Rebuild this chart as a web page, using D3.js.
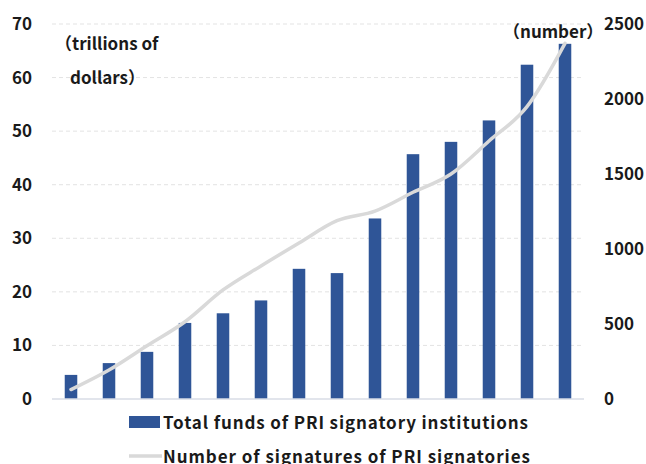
<!DOCTYPE html>
<html>
<head>
<meta charset="utf-8">
<script src="https://cdn.jsdelivr.net/npm/d3@7"></script>
<style>
  body { margin: 0; background: #fff; }
  text { font-family: "Noto Sans CJK JP", "Noto Sans", sans-serif; font-weight: bold; fill: #1a1a1a; }
</style>
</head>
<body>
<div id="chart"></div>
<script>
// values
const years = ["2006", "2007", "2008", "2009", "2010", "2011", "2012", "2013", "2014", "2015", "2016", "2017", "2018", "2019"];
const funds = [4.5, 6.7, 8.8, 14.2, 16.0, 18.4, 24.3, 23.5, 33.7, 45.7, 48.0, 52.0, 62.4, 66.3];
const signatories = [63, 193, 355, 515, 727, 887, 1040, 1189, 1253, 1378, 1500, 1720, 1949, 2371];
const leftTicks = [0, 10, 20, 30, 40, 50, 60, 70];
const rightTicks = [0, 500, 1000, 1500, 2000, 2500];

const width = 646, height = 464;
const margin = { top: 24, right: 62, bottom: 65, left: 52 };
const innerW = width - margin.left - margin.right;
const innerH = height - margin.top - margin.bottom;

const svg = d3.select('#chart')
    .append('svg')
    .attr('width', width)
    .attr('height', height);

const g = svg.append('g')
    .attr('transform', `translate(${margin.left}, ${margin.top})`);

const xScale = d3.scaleBand()
    .domain(years)
    .range([0, innerW])
    .paddingInner(0.67)
    .paddingOuter(0.335);

const yLeft = d3.scaleLinear().domain([0, 70]).range([innerH, 0]);
const yRight = d3.scaleLinear().domain([0, 2500]).range([innerH, 0]);

// dashed gridlines
g.append('g')
    .selectAll('line')
    .data(leftTicks.filter(d => d > 0))
    .enter()
    .append('line')
    .attr('x1', 0)
    .attr('x2', innerW)
    .attr('y1', d => yLeft(d))
    .attr('y2', d => yLeft(d))
    .attr('stroke', '#e3e3e3')
    .attr('stroke-width', 1)
    .attr('stroke-dasharray', '4 3');

// left axis labels
const leftAxis = g.append('g')
    .call(d3.axisLeft(yLeft).tickValues(leftTicks).tickSize(0).tickPadding(20));
leftAxis.select('.domain').remove();
leftAxis.selectAll('text')
    .style('font-size', '17px')
    .attr('fill', '#1a1a1a');

// right axis labels
const rightAxis = g.append('g')
    .attr('transform', `translate(${innerW}, 0)`)
    .call(d3.axisRight(yRight).tickValues(rightTicks).tickFormat(d3.format('d')).tickSize(0).tickPadding(20));
rightAxis.select('.domain').remove();
rightAxis.selectAll('text')
    .style('font-size', '17px')
    .attr('fill', '#1a1a1a');

// bars
g.selectAll('.bar')
    .data(funds)
    .enter()
    .append('rect')
    .attr('class', 'bar')
    .attr('x', (d, i) => xScale(years[i]))
    .attr('y', d => yLeft(d))
    .attr('width', xScale.bandwidth())
    .attr('height', d => innerH - yLeft(d))
    .attr('fill', '#2f5597');

// baseline
g.append('line')
    .attr('x1', 0)
    .attr('x2', innerW)
    .attr('y1', innerH)
    .attr('y2', innerH)
    .attr('stroke', '#d9dce6')
    .attr('stroke-width', 1.5);

// signatories line
const line = d3.line()
    .x((d, i) => xScale(years[i]) + xScale.bandwidth() / 2)
    .y(d => yRight(d))
    .curve(d3.curveMonotoneX);

g.append('path')
    .datum(signatories)
    .attr('fill', 'none')
    .attr('stroke', '#d9d9d9')
    .attr('stroke-width', 3.5)
    .attr('stroke-linecap', 'round')
    .attr('d', line);

// unit labels
svg.append('text').attr('x', 55).attr('y', 50).style('font-size', '17px').text('（trillions of');
svg.append('text').attr('x', 70).attr('y', 84).style('font-size', '17px').text('dollars）');
svg.append('text').attr('x', 503).attr('y', 38).style('font-size', '17px').text('（number）');

// legend
svg.append('rect')
    .attr('x', 129).attr('y', 416)
    .attr('width', 31).attr('height', 12)
    .attr('fill', '#2f5597');
svg.append('text')
    .attr('x', 163).attr('y', 429)
    .style('font-size', '17px')
    .attr('textLength', 365)
    .text('Total funds of PRI signatory institutions');

svg.append('line')
    .attr('x1', 129).attr('x2', 162)
    .attr('y1', 456).attr('y2', 456)
    .attr('stroke', '#d9d9d9')
    .attr('stroke-width', 3.5);
svg.append('text')
    .attr('x', 163).attr('y', 463)
    .style('font-size', '17px')
    .attr('textLength', 367)
    .text('Number of signatures of PRI signatories');
</script>
</body>
</html>
